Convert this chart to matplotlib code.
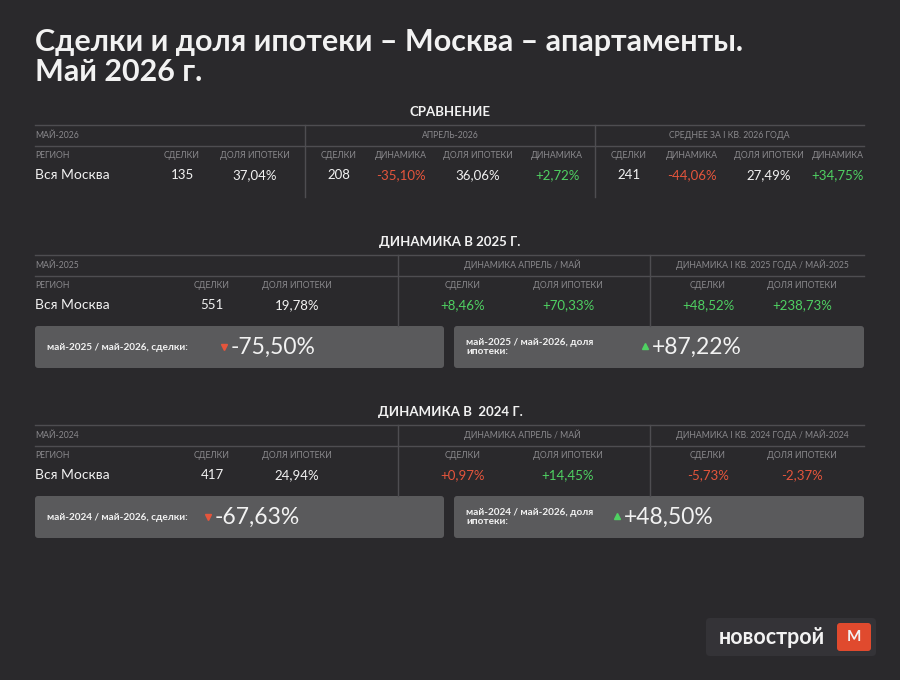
import matplotlib
matplotlib.use("Agg")
import matplotlib.pyplot as plt
from matplotlib.patches import FancyBboxPatch

plt.rcParams['font.family'] = ['Lato', 'DejaVu Sans']

# ---- data ----
title_lines = ["Сделки и доля ипотеки – Москва – апартаменты.", "Май 2026 г."]
region = "Вся Москва"

cmp_title = "СРАВНЕНИЕ"
cmp_groups = ["МАЙ-2026", "АПРЕЛЬ-2026", "СРЕДНЕЕ ЗА I КВ. 2026 ГОДА"]
cmp_headers = ["СДЕЛКИ", "ДОЛЯ ИПОТЕКИ", "СДЕЛКИ", "ДИНАМИКА", "ДОЛЯ ИПОТЕКИ", "ДИНАМИКА",
               "СДЕЛКИ", "ДИНАМИКА", "ДОЛЯ ИПОТЕКИ", "ДИНАМИКА"]
cmp_values = ["135", "37,04%", "208", "-35,10%", "36,06%", "+2,72%",
              "241", "-44,06%", "27,49%", "+34,75%"]
# 0 = neutral, 1 = growth (green), -1 = fall (red)
cmp_trend = [0, 0, 0, -1, 0, 1, 0, -1, 0, 1]

years = ["2025", "2024"]
year_titles = ["ДИНАМИКА В 2025 Г.", "ДИНАМИКА В  2024 Г."]
year_groups = [["МАЙ-2025", "ДИНАМИКА АПРЕЛЬ / МАЙ", "ДИНАМИКА I КВ. 2025 ГОДА / МАЙ-2025"],
               ["МАЙ-2024", "ДИНАМИКА АПРЕЛЬ / МАЙ", "ДИНАМИКА I КВ. 2024 ГОДА / МАЙ-2024"]]
year_headers = ["СДЕЛКИ", "ДОЛЯ ИПОТЕКИ", "СДЕЛКИ", "ДОЛЯ ИПОТЕКИ", "СДЕЛКИ", "ДОЛЯ ИПОТЕКИ"]
year_values = [["551", "19,78%", "+8,46%", "+70,33%", "+48,52%", "+238,73%"],
               ["417", "24,94%", "+0,97%", "+14,45%", "-5,73%", "-2,37%"]]
year_trend = [[0, 0, 1, 1, 1, 1],
              [0, 0, -1, 1, -1, -1]]
deal_labels = ["май-2025 / май-2026, сделки:", "май-2024 / май-2026, сделки:"]
deal_change = ["-75,50%", "-67,63%"]
mort_labels = ["май-2025 / май-2026, доля\nипотеки:", "май-2024 / май-2026, доля\nипотеки:"]
mort_change = ["+87,22%", "+48,50%"]

# ---- style ----
BG = "#2a292c"
LINE = "#4e4d51"
BOX = "#5a5a5c"
GRAY = "#8a898d"
WHITE = "#f2f2f2"
RED = "#e5553c"
GREEN = "#4fd162"
trend_color = {0: WHITE, 1: GREEN, -1: RED}

fig = plt.figure(figsize=(9, 6.8), dpi=100)
fig.patch.set_facecolor(BG)
ax = fig.add_axes([0, 0, 1, 1])
ax.set_xlim(0, 900)
ax.set_ylim(680, 0)
ax.axis("off")
ax.set_facecolor(BG)

L, R = 35, 864

ax.text(L, 42, title_lines[0], color=WHITE, fontsize=22, fontweight="bold", va="center", ha="left")
ax.text(L, 72, title_lines[1], color=WHITE, fontsize=22, fontweight="bold", va="center", ha="left")


def hline(y):
    ax.plot([L, R], [y, y], color=LINE, lw=1)


def vline(x, y0, y1):
    ax.plot([x, x], [y0, y1], color=LINE, lw=1)


def small(x, y, s, ha="center"):
    ax.text(x, y, s, color=GRAY, fontsize=6.2, ha=ha, va="center")


def value(x, y, s, trend, size=9.5):
    ax.text(x, y, s, color=trend_color[trend], fontsize=size, ha="center", va="center")


# ---- comparison block ----
ax.text(450, 112, cmp_title, color=WHITE, fontsize=9.5, fontweight="bold", ha="center", va="center")
hline(125)
hline(146)
vline(305, 125, 197)
vline(595, 125, 197)
small(L, 135, cmp_groups[0], ha="left")
small(450, 135, cmp_groups[1])
small(729, 135, cmp_groups[2])
cmp_x = [182, 255, 339, 401, 478, 557, 629, 692, 769, 838]
small(L, 156, "РЕГИОН", ha="left")
ax.text(L, 175, region, color=WHITE, fontsize=10, ha="left", va="center")
for x, h, v, t in zip(cmp_x, cmp_headers, cmp_values, cmp_trend):
    small(x, 156, h)
    value(x, 175, v, t)

# ---- year blocks ----
year_x = [212, 297, 463, 568, 708, 802]
tops = [242, 412]
for i, yr in enumerate(years):
    y0 = tops[i]
    ax.text(450, y0, year_titles[i], color=WHITE, fontsize=9.5, fontweight="bold", ha="center", va="center")
    hline(y0 + 13)
    hline(y0 + 34)
    vline(398, y0 + 13, y0 + 84)
    vline(650, y0 + 13, y0 + 84)
    small(L, y0 + 23, year_groups[i][0], ha="left")
    small(522, y0 + 23, year_groups[i][1])
    small(762, y0 + 23, year_groups[i][2])
    small(L, y0 + 44, "РЕГИОН", ha="left")
    ax.text(L, y0 + 63, region, color=WHITE, fontsize=10, ha="left", va="center")
    for x, h, v, t in zip(year_x, year_headers, year_values[i], year_trend[i]):
        small(x, y0 + 44, h)
        value(x, y0 + 63, v, t)

    # summary boxes
    by0, by1 = y0 + 84, y0 + 126
    for bx0, bx1 in [(L, 444), (454, R)]:
        ax.add_patch(FancyBboxPatch((bx0 + 3, by0 + 3), bx1 - bx0 - 6, by1 - by0 - 6,
                                    boxstyle="round,pad=3", fc=BOX, ec="none"))
    ym = (by0 + by1) / 2
    ax.text(47, ym, deal_labels[i], color=WHITE, fontsize=7.2, fontweight="bold", ha="left", va="center")
    dx = 224 if i == 0 else 208
    ax.plot(dx, ym, marker="v", color=RED, markersize=5, linestyle="none")
    ax.text(dx + 7, ym, deal_change[i], color=WHITE, fontsize=16.5, ha="left", va="center")
    ax.text(466, ym, mort_labels[i], color=WHITE, fontsize=7.2, fontweight="bold", ha="left", va="center",
            linespacing=1.1)
    mx = 645 if i == 0 else 617
    ax.plot(mx, ym - 1, marker="^", color=GREEN, markersize=5, linestyle="none")
    ax.text(mx + 7, ym, mort_change[i], color=WHITE, fontsize=16.5, ha="left", va="center")

# ---- logo ----
ax.add_patch(FancyBboxPatch((710, 622), 162, 30, boxstyle="round,pad=4", fc="#343337", ec="none"))
ax.text(719, 637, "новострой", color=WHITE, fontsize=15.5, fontweight="bold", ha="left", va="center")
ax.add_patch(FancyBboxPatch((840, 626), 28, 22, boxstyle="round,pad=3", fc="#e04a2e", ec="none"))
ax.text(854, 637, "М", color=WHITE, fontsize=11, fontweight="bold", ha="center", va="center")

fig.savefig("out.png", dpi=100, facecolor=BG)
